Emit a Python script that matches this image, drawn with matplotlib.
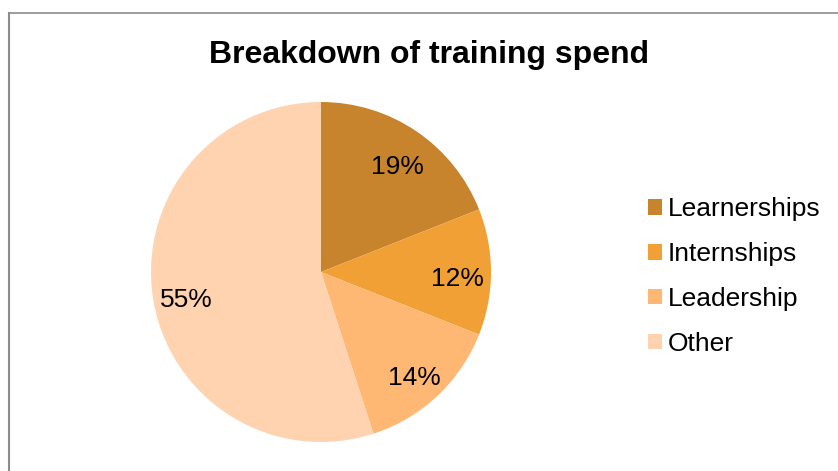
import matplotlib
matplotlib.use("Agg")
import matplotlib.pyplot as plt
import matplotlib.transforms as mtransforms
from matplotlib.patches import Patch
from matplotlib.lines import Line2D

plt.rcParams['font.family'] = ['Liberation Sans', 'DejaVu Sans']

categories = ['Learnerships', 'Internships', 'Leadership', 'Other']
shares = [19, 12, 14, 55]
colours = ['#C8842C', '#F0A035', '#FFB874', '#FFD2B0']
title = "Breakdown of training spend"

fig = plt.figure(figsize=(8.38, 4.71), dpi=100)

# pie area: center ~ (321, 272) px, radius ~170 px
ax = fig.add_axes([151/838, (471-442)/471, 340/838, 340/471])
wedges, texts, autotexts = ax.pie(
    shares, colors=colours, startangle=90, counterclock=False,
    autopct='%1.0f%%', pctdistance=0.8, radius=1,
    textprops={'fontsize': 19, 'color': 'black'},
    wedgeprops={'linewidth': 0})
ax.set_xlim(-1, 1)
ax.set_ylim(-1, 1)
ax.set_aspect('auto')
ax.axis('off')

# nudge the percentage labels down a little
shift = mtransforms.offset_copy(ax.transData, fig=fig, x=0, y=-7, units='dots')
for t in autotexts:
    t.set_transform(shift)

fig.text(429/838, (471-55)/471, title, ha='center', va='center',
         fontsize=23, fontweight='bold')

handles = [Patch(facecolor=c, edgecolor='none') for c in colours]
fig.legend(handles, categories, loc='center left',
           bbox_to_anchor=(648/838, (471-276.5)/471),
           frameon=False, fontsize=19, handlelength=0.53, handleheight=0.53,
           handletextpad=0.23, labelspacing=0.79, borderpad=0, borderaxespad=0)

# chart border (left and top edges visible)
fig.add_artist(Line2D([9/838, 9/838], [0, (471-13)/471], transform=fig.transFigure,
                      color='#8C8C8C', linewidth=1.5))
fig.add_artist(Line2D([9/838, 1], [(471-13)/471, (471-13)/471], transform=fig.transFigure,
                      color='#8C8C8C', linewidth=1.2))

fig.savefig('out.png', dpi=100)
